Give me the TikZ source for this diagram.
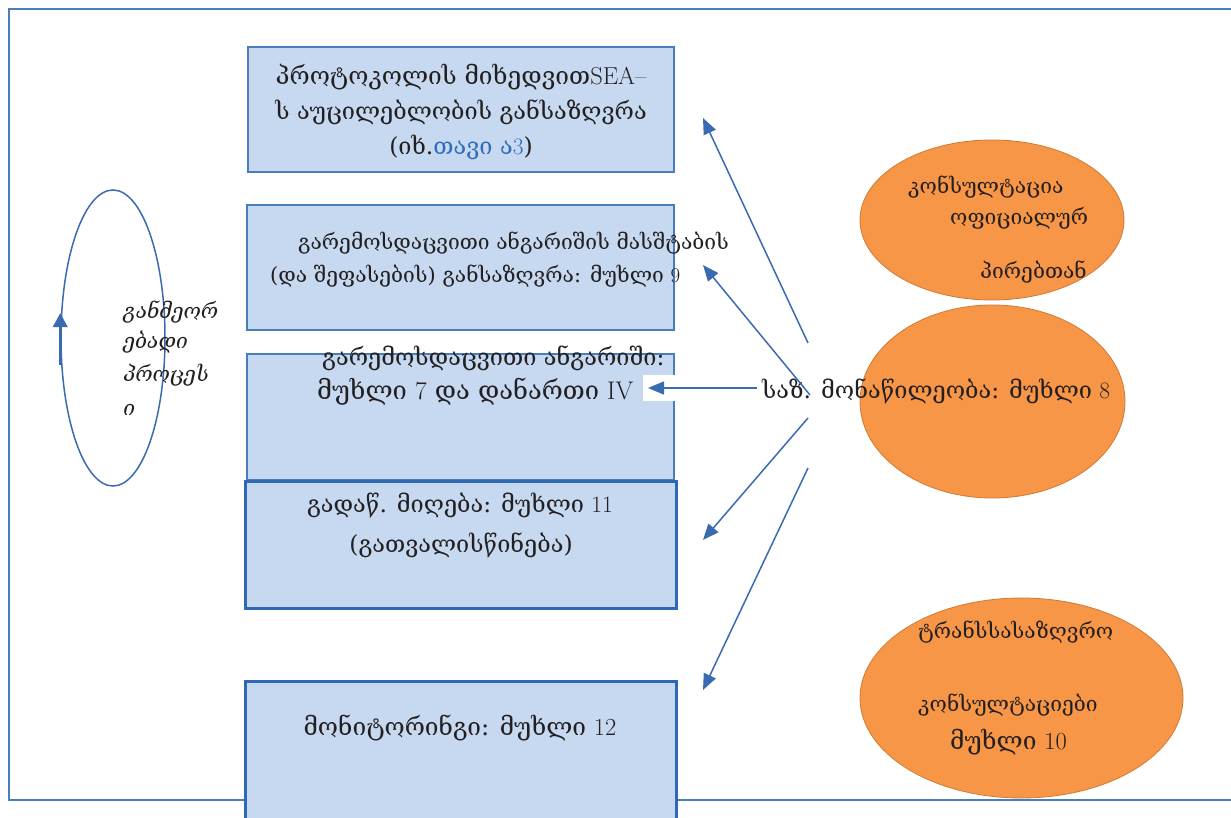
\documentclass[tikz,border=0pt]{standalone}
\usepackage{fontspec}
\setmainfont{DejaVu Serif}
\newfontfamily\geoit{DejaVu Serif}[FakeSlant=0.22]
\newfontfamily\lmfont{Latin Modern Roman}
\newcommand\lat[1]{{\lmfont #1}}
\usetikzlibrary{arrows.meta,shapes.geometric,calc}
\definecolor{boxfill}{HTML}{C6D9F0}
\definecolor{boxline}{HTML}{4A7EBB}
\definecolor{boxthick}{HTML}{2F69B3}
\definecolor{arr}{HTML}{3A6BB1}
\definecolor{orfill}{HTML}{F79646}
\definecolor{orline}{HTML}{D07A34}
\definecolor{txt}{HTML}{231F20}
\definecolor{link}{HTML}{2F6DB8}
\begin{document}
\begin{tikzpicture}[x=1pt,y=-1pt,
  every node/.style={text=txt,font=\fontsize{23.5}{28}\selectfont,inner sep=0pt},
  sm/.style={font=\fontsize{21}{25}\selectfont},
  bg/.style={font=\fontsize{24.5}{28}\selectfont},
  bgg/.style={font=\fontsize{25.5}{28}\selectfont},
  box/.style={draw=boxline,line width=1.5pt,fill=boxfill},
  boxb/.style={draw=boxthick,line width=3pt,fill=boxfill},
  oval/.style={ellipse,draw=orline,line width=0.8pt,fill=orfill},
  conn/.style={draw=arr,line width=1.5pt,-{Triangle[length=16pt,width=13pt]}},
  lbl/.style={anchor=west},
  itl/.style={anchor=west,font=\geoit\fontsize{21}{25}\selectfont}]
\useasboundingbox (0,0) rectangle (1231,818);
\clip (0,0) rectangle (1231,818);
% frame
\draw[boxline,line width=1.5pt] (1240,9) -- (9,9) -- (9,800) -- (1240,800);
% boxes
\node[box,minimum width=426pt,minimum height=125pt] (b1) at (461,109.5) {};
\node[box,minimum width=427pt,minimum height=125pt] (b2) at (460.5,267.5) {};
\node[box,minimum width=427pt,minimum height=126pt] (b3) at (460.5,417) {};
\node[boxb,minimum width=431pt,minimum height=127pt] (b4) at (460.5,544.5) {};
\node[boxb,minimum width=431pt,minimum height=149pt] (b5) at (460.5,755.5) {};
% ellipses
\node[oval,minimum width=264pt,minimum height=160pt] (e1) at (992,220) {};
\node[oval,minimum width=265pt,minimum height=193pt] (e2) at (992.5,401.5) {};
\node[oval,minimum width=323pt,minimum height=200pt] (e3) at (1021.5,698) {};
% loop
\node[ellipse,draw=arr,line width=1.5pt,minimum width=104pt,minimum height=296pt] (loop) at (113,338) {};
\coordinate (lpA) at ($(loop.west)+(0,27)$);
\coordinate (lpB) at ($(loop.west)+(0,-25)$);
\draw[draw=arr,line width=3.5pt,-{Triangle[length=14pt,width=14pt]}] (lpA) -- (lpB);
% texts
\node[anchor=center,bg] (t1a) at (461,77) {პროტოკოლის მიხედვით\lat{SEA–}};
\node[anchor=center] (t1b) at (461,112) {ს აუცილებლობის განსაზღვრა};
\node[anchor=center] (t1c) at (461,147) {(იხ.{\color{link}თავი ა\lat{3}})};
\node[lbl,sm] (t2a) at (298,243) {გარემოსდაცვითი ანგარიშის მასშტაბის};
\node[lbl,sm] (t2b) at (270,276) {(და შეფასების) განსაზღვრა: მუხლი \lat{9}};
\node[lbl] (t3a) at (322,358) {გარემოსდაცვითი ანგარიში:};
\node[lbl,bgg] (t3b) at (317,392) {მუხლი \lat{7} და დანართი \lat{IV}};
\node[anchor=center] (t4a) at (460,505) {გადაწ. მიღება: მუხლი \lat{11}};
\node[anchor=center] (t4b) at (461,545) {(გათვალისწინება)};
\node[anchor=center,bg] (t5a) at (460,728) {მონიტორინგი: მუხლი \lat{12}};
\node[lbl,sm] (e1a) at (908,187) {კონსულტაცია};
\node[lbl,sm] (e1b) at (950,218) {ოფიციალურ};
\node[lbl,sm] (e1c) at (980,272) {პირებთან};
\node[lbl,sm] (e3a) at (918,632) {ტრანსსასაზღვრო};
\node[lbl,sm] (e3b) at (918,705) {კონსულტაციები};
\node[lbl,bg] (e3c) at (950,742) {მუხლი \lat{10}};
\node[itl] (l1) at (122,312) {განმეორ};
\node[itl] (l2) at (122,342) {ებადი};
\node[itl] (l3) at (122,375) {პროცეს};
\node[itl] (l4) at (122,410) {ი};
% white patch and label
\fill[white] (643,375) rectangle (700,401);
\node[lbl] (e2a) at (762,391) {საზ. მონაწილეობა: მუხლი \lat{8}};
% connectors
\coordinate (s1) at (808,343);
\coordinate (s2) at (810,395);
\coordinate (s3) at (757,388);
\coordinate (s4) at (808,418);
\coordinate (s5) at (808,468);
\coordinate (a1) at (703,118);
\coordinate (a2) at (703,265);
\coordinate (a3) at (648,388);
\coordinate (a4) at (703,540);
\coordinate (a5) at (703,690);
\draw[conn] (s1) -- (a1);
\draw[conn] (s2) -- (a2);
\draw[conn] (s3) -- (a3);
\draw[conn] (s4) -- (a4);
\draw[conn] (s5) -- (a5);
\end{tikzpicture}
\end{document}
